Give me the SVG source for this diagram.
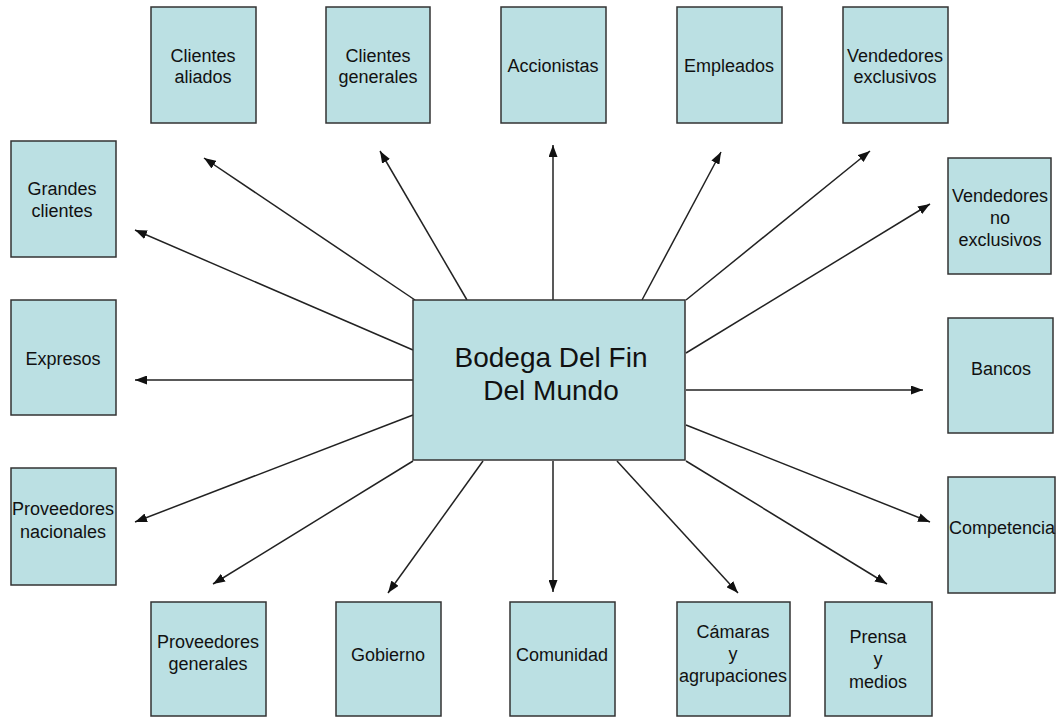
<svg xmlns="http://www.w3.org/2000/svg" width="1057" height="717" viewBox="0 0 1057 717">
<style>
.box{fill:#BBE0E3;stroke:#333;stroke-width:1.5}
.t{font-family:"Liberation Sans",Arial,sans-serif;font-size:18px;fill:#111;text-anchor:middle}
.tc{font-family:"Liberation Sans",Arial,sans-serif;font-size:28px;fill:#111;text-anchor:middle}
.c line{stroke:#222;stroke-width:1.5;marker-end:url(#ah)}
</style>
<defs>
<marker id="ah" markerUnits="userSpaceOnUse" markerWidth="12" markerHeight="9" refX="12" refY="4.5" orient="auto">
<path d="M0,0 L12,4.5 L0,9 z" fill="#111"/>
</marker>
</defs>
<rect width="1057" height="717" fill="#fff"/>
<g class="c" id="connectors">
<line x1="415" y1="300" x2="204" y2="158"/>
<line x1="467" y1="300" x2="380" y2="151"/>
<line x1="553" y1="300" x2="553" y2="145"/>
<line x1="642" y1="300" x2="721" y2="152"/>
<line x1="686" y1="300" x2="870" y2="151"/>
<line x1="686" y1="353" x2="930" y2="204"/>
<line x1="686" y1="390" x2="923" y2="390"/>
<line x1="686" y1="425" x2="930" y2="522"/>
<line x1="686" y1="461" x2="887" y2="584"/>
<line x1="617" y1="461" x2="738" y2="593"/>
<line x1="553" y1="461" x2="553" y2="592"/>
<line x1="483" y1="461" x2="388" y2="593"/>
<line x1="413" y1="461" x2="213" y2="584"/>
<line x1="413" y1="415" x2="135" y2="522"/>
<line x1="413" y1="380" x2="135" y2="380"/>
<line x1="413" y1="350" x2="135" y2="230"/>
</g>
<g id="center"><rect class="box" x="413" y="300" width="272" height="160"/><text class="tc" x="551" y="367">Bodega Del Fin</text><text class="tc" x="551" y="400">Del Mundo</text></g>
<g id="clientes-aliados"><rect class="box" x="151" y="7" width="105" height="116"/><text class="t" x="203" y="62">Clientes</text><text class="t" x="203" y="83">aliados</text></g>
<g id="clientes-generales"><rect class="box" x="326" y="7" width="104" height="116"/><text class="t" x="378" y="62">Clientes</text><text class="t" x="378" y="83">generales</text></g>
<g id="accionistas"><rect class="box" x="501" y="7" width="105" height="116"/><text class="t" x="553" y="72">Accionistas</text></g>
<g id="empleados"><rect class="box" x="677" y="7" width="105" height="116"/><text class="t" x="729" y="72">Empleados</text></g>
<g id="vendedores-exclusivos"><rect class="box" x="843" y="7" width="105" height="116"/><text class="t" x="895" y="62">Vendedores</text><text class="t" x="895" y="83">exclusivos</text></g>
<g id="grandes-clientes"><rect class="box" x="11" y="141" width="105" height="116"/><text class="t" x="62" y="195">Grandes</text><text class="t" x="62" y="217">clientes</text></g>
<g id="expresos"><rect class="box" x="11" y="300" width="105" height="115"/><text class="t" x="63" y="365">Expresos</text></g>
<g id="proveedores-nacionales"><rect class="box" x="11" y="468" width="105" height="117"/><text class="t" x="63" y="515">Proveedores</text><text class="t" x="63" y="538">nacionales</text></g>
<g id="vendedores-no-exclusivos"><rect class="box" x="948" y="158" width="103" height="116"/><text class="t" x="1000" y="202">Vendedores</text><text class="t" x="1000" y="224">no</text><text class="t" x="1000" y="246">exclusivos</text></g>
<g id="bancos"><rect class="box" x="948" y="318" width="105" height="115"/><text class="t" x="1001" y="375">Bancos</text></g>
<g id="competencia"><rect class="box" x="948" y="477" width="107" height="116"/><text class="t" x="1002" y="534">Competencia</text></g>
<g id="proveedores-generales"><rect class="box" x="151" y="602" width="115" height="114"/><text class="t" x="208" y="648">Proveedores</text><text class="t" x="208" y="670">generales</text></g>
<g id="gobierno"><rect class="box" x="336" y="602" width="105" height="114"/><text class="t" x="388" y="661">Gobierno</text></g>
<g id="comunidad"><rect class="box" x="510" y="602" width="105" height="114"/><text class="t" x="562" y="661">Comunidad</text></g>
<g id="camaras"><rect class="box" x="677" y="602" width="113" height="114"/><text class="t" x="733" y="638">Cámaras</text><text class="t" x="733" y="660">y</text><text class="t" x="733" y="682">agrupaciones</text></g>
<g id="prensa"><rect class="box" x="825" y="602" width="107" height="114"/><text class="t" x="878" y="643">Prensa</text><text class="t" x="878" y="665">y</text><text class="t" x="878" y="688">medios</text></g>
</svg>
